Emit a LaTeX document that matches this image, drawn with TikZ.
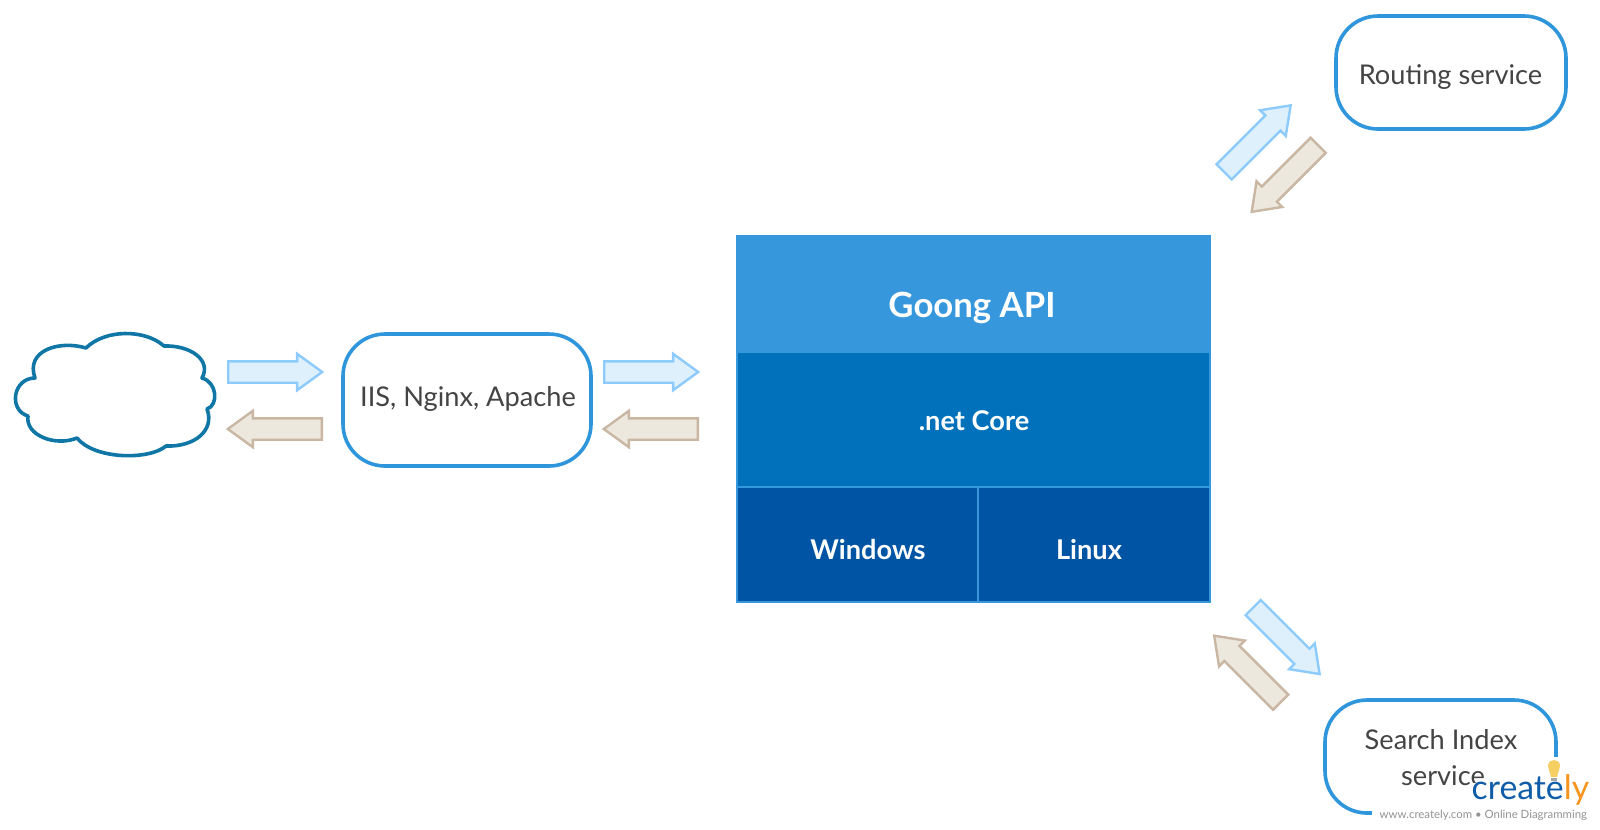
\documentclass[tikz,border=0pt]{standalone}
\usepackage{fontspec}
\setmainfont{Lato}
\usetikzlibrary{shapes.arrows}
\newdimen\uu \uu=0.01cm
\definecolor{boxblue}{HTML}{2F96DC}
\definecolor{headblue}{HTML}{3797DC}
\definecolor{coreblue}{HTML}{0171BB}
\definecolor{osblue}{HTML}{0054A4}
\definecolor{txtgray}{HTML}{444444}
\definecolor{cloudblue}{HTML}{0F76A6}
\definecolor{arrowblue}{HTML}{8CCBFB}
\definecolor{arrowbluefill}{HTML}{DDF0FC}
\definecolor{arrowtan}{HTML}{C9B6A3}
\definecolor{arrowtanfill}{HTML}{ECE8DD}
\definecolor{logoblue}{HTML}{0F5CA8}
\definecolor{logoorange}{HTML}{F7941D}
\definecolor{bulb}{HTML}{F6CF63}
\tikzset{
  x=0.01cm,y=-0.01cm,
  pxfont/.style={font=\fontsize{#1\uu}{#1\uu}\selectfont},
  svcbox/.style={draw=boxblue,line width=3.6\uu,rounded corners=42\uu,fill=white,rectangle,inner sep=0pt},
  svctext/.style={anchor=base,text=txtgray,inner sep=0pt,pxfont=27.2},
  band/.style={draw=headblue,line width=2\uu,rectangle,inner sep=0pt},
  bandtext/.style={anchor=base,text=white,inner sep=0pt},
  blockarrow/.style={single arrow,anchor=tail,line width=2.4\uu,minimum height=94\uu,inner xsep=0pt,inner ysep=9.5\uu,
     single arrow head extend=7.5\uu,single arrow tip angle=72,line join=miter},
  fwd/.style={blockarrow,draw=arrowblue,fill=arrowbluefill},
  back/.style={blockarrow,draw=arrowtan,fill=arrowtanfill},
}
\begin{document}
\begin{tikzpicture}
\useasboundingbox (0,0) rectangle (1600,829);

% cloud
\draw[cloudblue,line width=3.6\uu,fill=white,line join=round]
  (35,378) .. controls (25,350) and (60,340) .. (86,348)
  .. controls (105,329) and (145,329) .. (164,346)
  .. controls (190,345) and (212,360) .. (202,378)
  .. controls (217,382) and (219,405) .. (207,409)
  .. controls (215,430) and (195,447) .. (166,446)
  .. controls (150,460) and (95,460) .. (77,438)
  .. controls (55,447) and (25,435) .. (28,416)
  .. controls (8,410) and (13,378) .. (35,378) -- cycle;

% service boxes
\node[svcbox,minimum width=248\uu,minimum height=132\uu] (web) at (467,400) {};
\node[svcbox,minimum width=230\uu,minimum height=113\uu] (routing) at (1451,72.5) {};
\node[svcbox,minimum width=231\uu,minimum height=113\uu] (search) at (1440.5,756.5) {};
\node[svctext] (webtxt) at (468,406) {IIS, Nginx, Apache};
\node[svctext] (routingtxt) at (1450.5,84) {Routing service};
\node[svctext] (searchtxta) at (1441,749) {Search Index};
\node[svctext] (searchtxtb) at (1443,785) {service};

% Goong API stack
\node[rectangle,fill=headblue,minimum width=475\uu,minimum height=118\uu,inner sep=0pt] (api) at (973.5,294) {};
\node[band,fill=coreblue,minimum width=473\uu,minimum height=135\uu] (core) at (973.5,419.5) {};
\node[band,fill=osblue,minimum width=241\uu,minimum height=115\uu] (win) at (857.5,544.5) {};
\node[band,fill=osblue,minimum width=232\uu,minimum height=115\uu] (linux) at (1094,544.5) {};
\node[bandtext,font=\fontsize{34.7\uu}{34.7\uu}\selectfont\bfseries] (apitxt) at (972,317) {Goong API};
\node[bandtext,font=\fontsize{27.2\uu}{27.2\uu}\selectfont\bfseries] (coretxt) at (974,430) {.net Core};
\node[bandtext,font=\fontsize{27.2\uu}{27.2\uu}\selectfont\bfseries] (wintxt) at (868,559) {Windows};
\node[bandtext,font=\fontsize{27.2\uu}{27.2\uu}\selectfont\bfseries] (linuxtxt) at (1089,559) {Linux};

% block arrows
\node[fwd] (a1) at (227,372) {};
\node[back,rotate=180] (a2) at (323,429) {};
\node[fwd] (a3) at (603,372) {};
\node[back,rotate=180] (a4) at (699,429) {};
\node[fwd,rotate=45] (a5) at (1223.3,172.7) {};
\node[back,rotate=225] (a6) at (1319,144.5) {};
\node[fwd,rotate=-45] (a7) at (1252.3,606.7) {};
\node[back,rotate=135] (a8) at (1281.5,703) {};

% logo
\fill[white] (1372,795) rectangle (1600,829);
\fill[white] (1470,783) rectangle (1600,829);
\fill[white] (1540,757) rectangle (1600,829);
\fill[bulb] (1551,777) .. controls (1550,771) and (1548,770) .. (1548,766)
  .. controls (1548,758) and (1560,758) .. (1560,766)
  .. controls (1560,770) and (1558,771) .. (1557,777) -- cycle;
\fill[gray!70] (1551,778) rectangle (1557,781);
\node[anchor=base west,inner sep=0pt,font=\fontsize{33.8\uu}{33.8\uu}\selectfont] (logo) at (1471,799)
  {\textcolor{logoblue}{create}\textcolor{logoorange}{ly}};
\node[anchor=base west,inner sep=0pt,text=gray!85,font=\fontsize{11.4\uu}{11.4\uu}\selectfont] (url) at (1379,818)
  {www.creately.com • Online Diagramming};
\end{tikzpicture}
\end{document}
